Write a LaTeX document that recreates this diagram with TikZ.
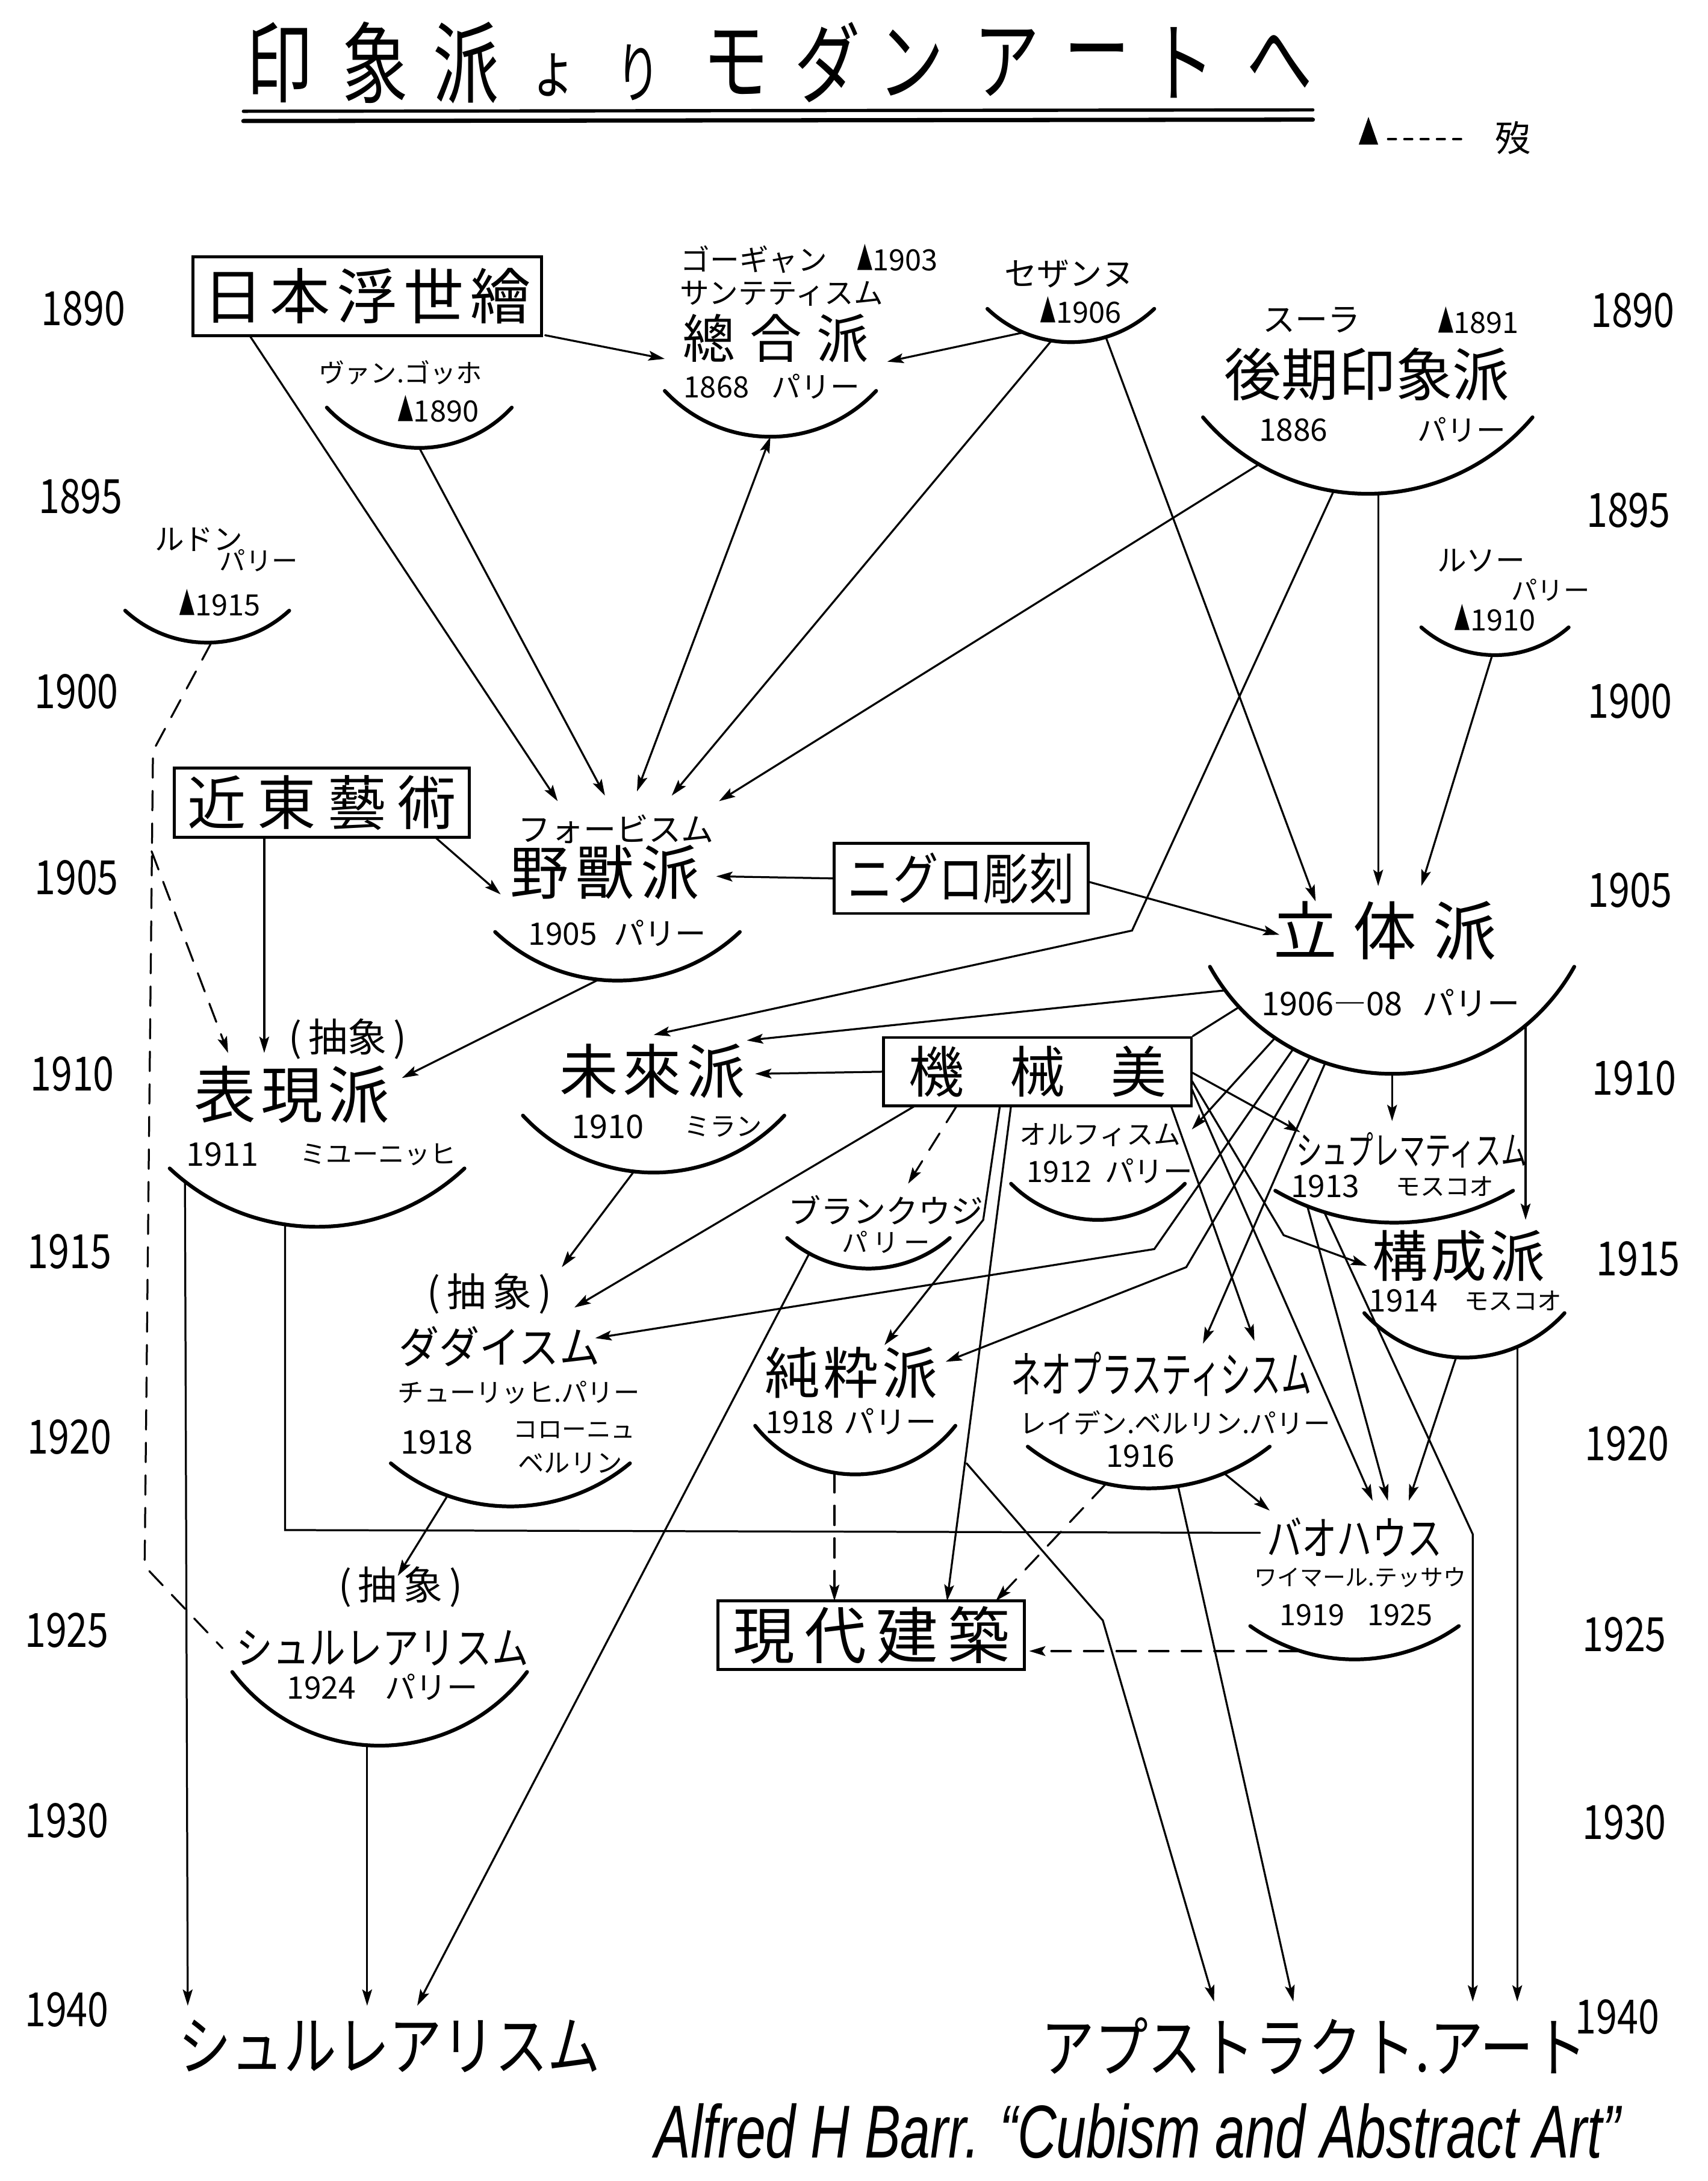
\documentclass[tikz,border=0pt]{standalone}
\usepackage{graphicx}
\usepackage{fontspec}
\setmainfont{Noto Sans CJK JP}
\newfontfamily\handfont{Liberation Sans}
\usetikzlibrary{arrows.meta}

\newcommand{\fs}[1]{\fontsize{#1}{#1}\selectfont}
\newcommand{\dead}{\scalebox{0.55}[1.1]{▲}}
\newcommand{\Year}[4]{% name, x, y, year
    \node[yearlabel] (#1) at (#2,#3) {\scalebox{0.8}[1]{#4}};
}
\newcommand{\Bowl}[5]{% name, left x, right x, y, depth
    \pgfmathsetmacro{\bowlw}{(#3-#2)/2}
    \pgfmathsetmacro{\bowlr}{\bowlw/(2*#5)*\bowlw+#5/2}
    \pgfmathsetmacro{\bowlt}{asin(\bowlw/\bowlr)}
    \draw[bowl] (#2,#4) arc[start angle=90+\bowlt, end angle=90-\bowlt, radius=\bowlr];
    \coordinate (#1) at ({(#2+#3)/2},{#4+#5});
}
\newcommand{\TitleChar}[3]{% name, x, char
    \node[titlechar] (#1) at (#2,45) {\scalebox{0.9}[1.2]{#3}};
}

\tikzset{
    conn/.style={line width=1.2pt},
    arr/.style={conn,-{Stealth[length=10pt,width=6pt,inset=2pt]}},
    darr/.style={conn,{Stealth[length=10pt,width=6pt,inset=2pt]}-{Stealth[length=10pt,width=6pt,inset=2pt]}},
    dashline/.style={conn,dash pattern=on 12pt off 8pt},
    bowl/.style={line width=2.3pt},
    framebox/.style={draw,line width=1.8pt,inner sep=0pt},
    yearlabel/.style={font=\fs{29}},
    titlechar/.style={font=\fs{45},inner sep=0pt},
}

\begin{document}
\begin{tikzpicture}[x=0.3mm,y=-0.3mm,line cap=round]
    \useasboundingbox (0,0) rectangle (1228,1568);

    % title
    \TitleChar{t1}{201}{印}
    \TitleChar{t2}{270}{象}
    \TitleChar{t3}{335}{派}
    \node[font=\fs{32},inner sep=0pt] (t4) at (398,54) {\scalebox{0.9}[1.2]{ょ}};
    \node[font=\fs{34},inner sep=0pt] (t5) at (459,52) {\scalebox{0.8}[1.2]{り}};
    \TitleChar{t6}{529}{モ}
    \TitleChar{t7}{595}{ダ}
    \TitleChar{t8}{655}{ン}
    \TitleChar{t9}{724}{ア}
    \TitleChar{t10}{789}{ー}
    \TitleChar{t11}{850}{ト}
    \TitleChar{t12}{920}{へ}
    \draw[line width=2pt] (175,80) -- (944,79);
    \draw[line width=2.6pt] (175,87) -- (944,86);

    % legend
    \fill (977,104) -- (984,84) -- (991,104) -- cycle;
    \draw[conn,dash pattern=on 5pt off 5pt] (998,100) -- (1052,100);
    \node[font=\fs{22}] (legend) at (1088,99) {歿};

    % years
    \Year{l1890}{60}{222}{1890}
    \Year{l1895}{58}{357}{1895}
    \Year{l1900}{55}{497}{1900}
    \Year{l1905}{55}{631}{1905}
    \Year{l1910}{52}{772}{1910}
    \Year{l1915}{50}{900}{1915}
    \Year{l1920}{50}{1033}{1920}
    \Year{l1925}{48}{1172}{1925}
    \Year{l1930}{48}{1309}{1930}
    \Year{l1940}{48}{1445}{1940}
    \Year{r1890}{1174}{223}{1890}
    \Year{r1895}{1171}{367}{1895}
    \Year{r1900}{1172}{504}{1900}
    \Year{r1905}{1172}{640}{1905}
    \Year{r1910}{1175}{775}{1910}
    \Year{r1915}{1178}{905}{1915}
    \Year{r1920}{1170}{1038}{1920}
    \Year{r1925}{1168}{1175}{1925}
    \Year{r1930}{1168}{1310}{1930}
    \Year{r1940}{1163}{1450}{1940}

    % boxes
    \node[framebox,minimum width=214pt,minimum height=48.5pt,font=\fs{37}] (ukiyoe) at (264,213) {日\hspace{4pt}本\hspace{4pt}浮\hspace{4pt}世\hspace{4pt}繪};
    \node[framebox,minimum width=181pt,minimum height=42.5pt,font=\fs{36}] (kinto) at (231.5,577) {近\hspace{7pt}東\hspace{7pt}藝\hspace{7pt}術};
    \node[framebox,minimum width=156pt,minimum height=43pt,font=\fs{34}] (negro) at (691,631.5) {\scalebox{0.82}[1]{ニグロ彫刻}};
    \node[framebox,minimum width=189pt,minimum height=42pt,font=\fs{34}] (kikai) at (746,770.5) {機\hspace{28pt}械\hspace{28pt}美};
    \node[framebox,minimum width=188pt,minimum height=42pt,font=\fs{38}] (gendai) at (626.5,1175.5) {現\hspace{6pt}代\hspace{6pt}建\hspace{6pt}築};

    % schools
    \node[font=\fs{16}] (goghname) at (288,268) {ヴァン.ゴッホ};
    \node[font=\fs{18}] (goghyr) at (315,294) {\dead1890};
    \Bowl{goghB}{235}{368}{293}{29}

    \node[font=\fs{18}] (gauguin) at (582,186) {ゴーギャン\hspace{18pt}\dead1903};
    \node[font=\fs{18}] (synthname) at (562,211) {サンテティスム};
    \node[font=\fs{32}] (synthmain) at (558,243) {總\hspace{9pt}合\hspace{9pt}派};
    \node[font=\fs{18}] (synthyr) at (555,278) {1868\hspace{14pt}パリー};
    \Bowl{synthB}{478}{630}{281}{33}

    \node[font=\fs{20}] (cezname) at (769,197) {セザンヌ};
    \node[font=\fs{18}] (cezyr) at (777,223) {\dead1906};
    \Bowl{cezBot}{710}{830}{222}{24}

    \node[font=\fs{20}] (seurat) at (943,230) {スーラ};
    \node[font=\fs{18}] (seuratyr) at (1063,230) {\dead1891};
    \node[font=\fs{35}] (postmain) at (983,269) {後期印象派};
    \node[font=\fs{19}] (postyr) at (930,309) {1886};
    \node[font=\fs{18}] (postcity) at (1051,309) {パリー};
    \Bowl{postBot}{865}{1102}{300}{55}

    \node[font=\fs{18}] (redonname) at (143,388) {ルドン};
    \node[font=\fs{16}] (redoncity) at (186,403) {パリー};
    \node[font=\fs{18}] (redonyr) at (158,433) {\dead1915};
    \Bowl{redonBot}{90}{208}{439}{23}

    \node[font=\fs{18}] (rousname) at (1065,403) {ルソー};
    \node[font=\fs{16}] (rouscity) at (1115,424) {パリー};
    \node[font=\fs{18}] (rousyr) at (1075,444) {\dead1910};
    \Bowl{rousBot}{1022}{1128}{451}{20}

    \node[font=\fs{20}] (fauvname) at (443,596) {フォービスム};
    \node[font=\fs{36}] (fauvmain) at (435,627) {野\hspace{4pt}獸\hspace{4pt}派};
    \node[font=\fs{19}] (fauvyr) at (444,671) {1905\hspace{10pt}パリー};
    \Bowl{fauvBot}{356}{532}{670}{35}

    \node[font=\fs{39}] (cubmain) at (996,669) {立\hspace{10pt}体\hspace{10pt}派};
    \node[font=\fs{20}] (cubyr) at (1000,721) {1906―08\hspace{12pt}パリー};
    \Bowl{cubBot}{870}{1132}{695}{77}

    \node[font=\fs{24}] (exprab) at (250,747) {(\,抽象\,)};
    \node[font=\fs{38}] (exprmain) at (210,787) {表\hspace{3pt}現\hspace{3pt}派};
    \node[font=\fs{20}] (expryr) at (160,830) {1911};
    \node[font=\fs{16}] (exprcity) at (272,830) {ミユーニッヒ};
    \Bowl{exprBot}{122}{334}{840}{42}

    \node[font=\fs{36}] (futmain) at (469,770) {未\hspace{3pt}來\hspace{3pt}派};
    \node[font=\fs{20}] (futyr) at (437,810) {1910};
    \node[font=\fs{16}] (futcity) at (520,810) {ミラン};
    \Bowl{futBot}{376}{564}{802}{41}

    \node[font=\fs{16.5}] (orphname) at (791,816) {オルフィスム};
    \node[font=\fs{18}] (orphyr) at (798,842) {1912\hspace{8pt}パリー};
    \Bowl{orphBot}{727}{852}{851}{26}

    \node[font=\fs{20}] (bramain) at (637,870) {ブランクウジ};
    \node[font=\fs{16}] (bracity) at (637,893) {パ\hspace{3pt}リ\hspace{3pt}ー};
    \Bowl{braBot}{566}{683}{890}{22}

    \node[font=\fs{24}] (supmain) at (1015,827) {\scalebox{0.66}[1]{シュプレマティスム}};
    \node[font=\fs{19}] (supyr) at (953,853) {1913};
    \node[font=\fs{15}] (supcity) at (1039,853) {モスコオ};
    \Bowl{supBot}{917}{1088}{856}{23}

    \node[font=\fs{34}] (kosmain) at (1049,903) {構\hspace{2pt}成\hspace{2pt}派};
    \node[font=\fs{19}] (kosyr) at (1009,935) {1914};
    \node[font=\fs{15}] (koscity) at (1088,935) {モスコオ};
    \Bowl{kosBot}{981}{1125}{944}{32}

    \node[font=\fs{24}] (dadaab) at (352,930) {(\,抽\,象\,)};
    \node[font=\fs{27}] (dadamain) at (359,968) {\scalebox{0.92}[1]{ダダイスム}};
    \node[font=\fs{16}] (dadacity) at (373,1001) {チューリッヒ.パリー};
    \node[font=\fs{20}] (dadayr) at (314,1037) {1918};
    \node[font=\fs{15}] (dadacity2) at (413,1028) {コローニュ};
    \node[font=\fs{16}] (dadacity3) at (410,1052) {ベルリン};
    \Bowl{dadaBot}{281}{453}{1052}{31}

    \node[font=\fs{34}] (purmain) at (612,987) {純\hspace{2pt}粋\hspace{2pt}派};
    \node[font=\fs{19}] (puryr) at (612,1022) {1918\hspace{6pt}パリー};
    \Bowl{purBot}{543}{687}{1025}{35}

    \node[font=\fs{30}] (neomain) at (835,988) {\scalebox{0.62}[1]{ネオプラスティシスム}};
    \node[font=\fs{16.5}] (neocity) at (845,1023) {レイデン.ベルリン.パリー};
    \node[font=\fs{19}] (neoyr) at (820,1047) {1916};
    \Bowl{neoBot}{739}{913}{1040}{30}

    \node[font=\fs{28}] (baumain) at (974,1105) {\scalebox{0.77}[1]{バオハウス}};
    \node[font=\fs{14}] (baucity) at (978,1134) {ワイマール.テッサウ};
    \node[font=\fs{18}] (bauyr) at (975,1161) {1919\hspace{14pt}1925};
    \Bowl{bauBot}{899}{1049}{1169}{24}

    \node[font=\fs{24}] (surrab) at (288,1141) {(\,抽\,象\,)};
    \node[font=\fs{27}] (surrmain) at (275,1185) {\scalebox{0.83}[1]{シュルレアリスム}};
    \node[font=\fs{19}] (surryr) at (275,1213) {1924\hspace{18pt}パリー};
    \Bowl{surrBot}{167}{379}{1202}{53}

    \node[font=\fs{40}] (fsurr) at (280,1471) {\scalebox{0.81}[1]{シュルレアリスム}};
    \node[font=\fs{40}] (fabs) at (945,1471) {\scalebox{0.82}[1]{アプストラクト.アート}};
    \node[font=\handfont\itshape\fs{46}] (credit) at (818,1532) {\scalebox{0.72}[1]{Alfred H Barr. “Cubism and Abstract Art”}};

    % connector end points
    \coordinate (ukiSE) at (392,241);
    \coordinate (ukiB) at (180,242);
    \coordinate (synthL) at (478,258);
    \coordinate (synthR) at (638,260);
    \coordinate (cezB1) at (736,239);
    \coordinate (cezB2) at (756,245);
    \coordinate (cezB3) at (795,242);
    \coordinate (postL) at (905,334);
    \coordinate (postB1) at (959,353);
    \coordinate (postB2) at (991,355);
    \coordinate (postBend) at (814,669);
    \coordinate (rousB) at (1073,471);
    \coordinate (redonB) at (152,462);
    \coordinate (redonBend) at (110,540);
    \coordinate (redonMid) at (109,612);
    \coordinate (redonLow) at (104,1126);
    \coordinate (fauvIn1) at (401,576);
    \coordinate (fauvIn2) at (435,572);
    \coordinate (fauvIn3) at (458,569);
    \coordinate (fauvIn4) at (483,572);
    \coordinate (fauvIn5) at (517,576);
    \coordinate (fauvIn6) at (360,643);
    \coordinate (fauvIn7) at (515,630);
    \coordinate (fauvB) at (431,704);
    \coordinate (cubIn1) at (946,648);
    \coordinate (cubIn2) at (991,637);
    \coordinate (cubIn3) at (1022,637);
    \coordinate (cubIn4) at (920,672);
    \coordinate (cubL1) at (881,712);
    \coordinate (cubL2) at (891,724);
    \coordinate (cubB1) at (917,746);
    \coordinate (cubB2) at (930,754);
    \coordinate (cubB3) at (942,760);
    \coordinate (cubB4) at (953,764);
    \coordinate (cubB6) at (1097,737);
    \coordinate (cubBend1) at (830,898);
    \coordinate (cubBend2) at (853,911);
    \coordinate (kintoB) at (190,602);
    \coordinate (kintoR) at (313,602);
    \coordinate (negroR) at (783,634);
    \coordinate (exprIn1) at (164,757);
    \coordinate (exprIn2) at (190,757);
    \coordinate (exprIn3) at (289,775);
    \coordinate (exprBL) at (133,849);
    \coordinate (exprB) at (205,880);
    \coordinate (exprCorner) at (205,1100);
    \coordinate (futIn1) at (470,744);
    \coordinate (futIn2) at (543,772);
    \coordinate (futIn3) at (537,748);
    \coordinate (futB) at (456,842);
    \coordinate (kikR1) at (857,771);
    \coordinate (kikR2) at (857,777);
    \coordinate (kikR3) at (857,783);
    \coordinate (kikB1) at (842,795);
    \coordinate (kikB2) at (658,795);
    \coordinate (kikB3) at (688,795);
    \coordinate (kikB4) at (719,795);
    \coordinate (kikB5) at (727,795);
    \coordinate (kikBend1) at (923,888);
    \coordinate (kikBend2) at (707,877);
    \coordinate (kikFork) at (695,1052);
    \coordinate (kikBend3) at (793,1165);
    \coordinate (orphIn) at (857,812);
    \coordinate (braIn) at (653,851);
    \coordinate (braB) at (582,901);
    \coordinate (supIn1) at (935,814);
    \coordinate (supIn2) at (1001,806);
    \coordinate (supB1) at (940,867);
    \coordinate (supB2) at (952,871);
    \coordinate (supBend) at (1059,1103);
    \coordinate (kosIn1) at (983,910);
    \coordinate (kosIn2) at (1097,877);
    \coordinate (kosB1) at (1047,976);
    \coordinate (kosB2) at (1091,968);
    \coordinate (dadaIn1) at (413,940);
    \coordinate (dadaIn2) at (428,962);
    \coordinate (dadaIn3) at (404,911);
    \coordinate (dadaB) at (322,1075);
    \coordinate (purIn1) at (636,967);
    \coordinate (purIn2) at (680,979);
    \coordinate (purB) at (600,1059);
    \coordinate (neoIn1) at (902,964);
    \coordinate (neoIn2) at (865,966);
    \coordinate (neoB1) at (880,1059);
    \coordinate (neoB2) at (847,1068);
    \coordinate (neoB3) at (795,1067);
    \coordinate (bauIn1) at (987,1079);
    \coordinate (bauIn2) at (998,1079);
    \coordinate (bauIn3) at (1013,1079);
    \coordinate (bauIn4) at (913,1086);
    \coordinate (bauL) at (906,1102);
    \coordinate (bauB) at (934,1187);
    \coordinate (gendaiIn1) at (681,1151);
    \coordinate (gendaiIn2) at (716,1151);
    \coordinate (gendaiIn3) at (600,1151);
    \coordinate (gendaiIn4) at (740,1187);
    \coordinate (surrIn1) at (160,1185);
    \coordinate (surrIn2) at (286,1133);
    \coordinate (surrB) at (264,1255);
    \coordinate (fsurrIn1) at (135,1442);
    \coordinate (fsurrIn2) at (264,1442);
    \coordinate (fsurrIn3) at (300,1442);
    \coordinate (absIn1) at (873,1439);
    \coordinate (absIn2) at (930,1439);
    \coordinate (absIn3) at (1059,1439);
    \coordinate (absIn4) at (1091,1439);

    % 1890s
    \draw[arr] (ukiSE) -- (synthL);
    \draw[arr] (cezB1) -- (synthR);
    \draw[arr] (ukiB) -- (fauvIn1);
    \draw[arr] (goghB) -- (fauvIn2);
    \draw[darr] (synthB) -- (fauvIn3);
    \draw[arr] (cezB2) -- (fauvIn4);
    \draw[arr] (postL) -- (fauvIn5);
    \draw[arr] (cezB3) -- (cubIn1);
    \draw[arr] (postB2) -- (cubIn2);
    \draw[arr] (rousB) -- (cubIn3);
    \draw[arr] (postB1) -- (postBend) -- (futIn1);
    \draw[dashline] (redonB) -- (redonBend) -- (redonLow) -- (surrIn1);
    \draw[dashline,-{Stealth[length=10pt,width=6pt,inset=2pt]}] (redonMid) -- (exprIn1);

    % 1905
    \draw[arr] (kintoB) -- (exprIn2);
    \draw[arr] (kintoR) -- (fauvIn6);
    \draw[arr] (negro.west) -- (fauvIn7);
    \draw[arr] (negroR) -- (cubIn4);
    \draw[arr] (fauvB) -- (exprIn3);

    % cubism
    \draw[arr] (cubL1) -- (futIn3);
    \draw[conn] (cubL2) -- (kikai.north east);
    \draw[arr] (cubB1) -- (orphIn);
    \draw[arr] (cubB2) -- (cubBend1) -- (dadaIn2);
    \draw[arr] (cubB3) -- (cubBend2) -- (purIn2);
    \draw[arr] (cubB4) -- (neoIn2);
    \draw[arr] (cubBot) -- (supIn2);
    \draw[arr] (cubB6) -- (kosIn2);

    % machine
    \draw[arr] (kikai.west) -- (futIn2);
    \draw[arr] (kikR1) -- (supIn1);
    \draw[arr] (kikR2) -- (kikBend1) -- (kosIn1);
    \draw[arr] (kikR3) -- (bauIn1);
    \draw[arr] (kikB1) -- (neoIn1);
    \draw[arr] (kikB2) -- (dadaIn1);
    \draw[dashline,-{Stealth[length=10pt,width=6pt,inset=2pt]}] (kikB3) -- (braIn);
    \draw[arr] (kikB4) -- (kikBend2) -- (purIn1);
    \draw[arr] (kikB5) -- (gendaiIn1);
    \draw[arr] (kikFork) -- (kikBend3) -- (absIn1);

    % 1910s
    \draw[arr] (futB) -- (dadaIn3);
    \draw[arr] (exprBL) -- (fsurrIn1);
    \draw[conn] (exprB) -- (exprCorner) -- (bauL);
    \draw[arr] (braB) -- (fsurrIn3);
    \draw[arr] (supB1) -- (bauIn2);
    \draw[arr] (supB2) -- (supBend) -- (absIn3);
    \draw[arr] (kosB1) -- (bauIn3);
    \draw[arr] (kosB2) -- (absIn4);
    \draw[arr] (dadaB) -- (surrIn2);
    \draw[arr] (neoB1) -- (bauIn4);
    \draw[arr] (neoB2) -- (absIn2);
    \draw[dashline,-{Stealth[length=10pt,width=6pt,inset=2pt]}] (neoB3) -- (gendaiIn2);
    \draw[dashline,-{Stealth[length=10pt,width=6pt,inset=2pt]}] (purB) -- (gendaiIn3);
    \draw[dashline,-{Stealth[length=10pt,width=6pt,inset=2pt]}] (bauB) -- (gendaiIn4);
    \draw[arr] (surrB) -- (fsurrIn2);
\end{tikzpicture}
\end{document}
